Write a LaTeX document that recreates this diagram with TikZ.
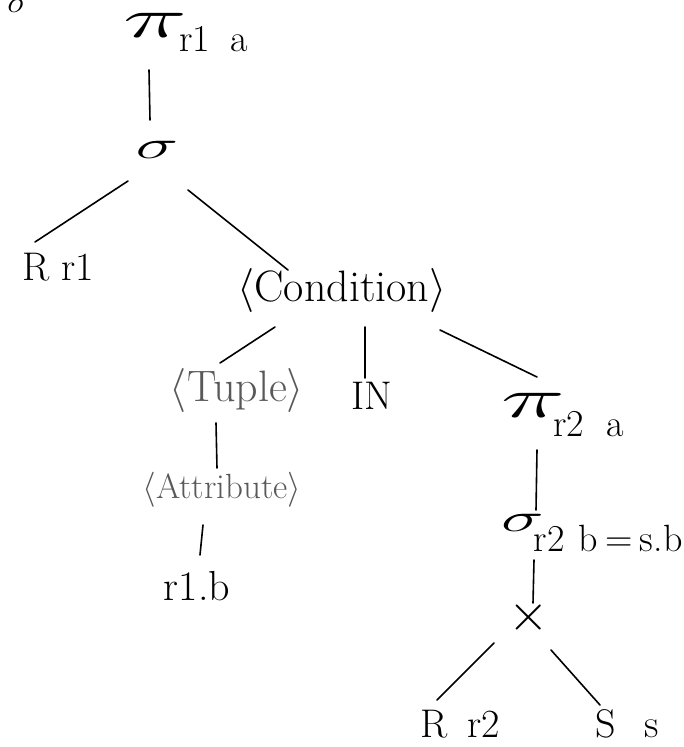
\RequirePackage{fix-cm}
\documentclass[tikz,border=0pt]{standalone}
\usepackage{fontspec}
\usepackage{graphicx}
\usetikzlibrary{calc}
% wide, hand-drawn looking operators
\newcommand\handpi{\scalebox{2.7}[1.4]{$\pi$}}
\newcommand\handsigma{\scalebox{1.8}[1.0]{$\sigma$}}
\newcommand\handtimes{\scalebox{1.3}{$\times$}}
% lowered subscript set at text size: {kern}{drop}{text}
\newcommand\opsub[3]{\hspace{#1}\raisebox{-#2}{\fontsize{38}{42}\selectfont #3}}
\begin{document}
\begin{tikzpicture}[x=1pt,y=-1pt,
  lbl/.style={inner sep=0pt, font=\fontsize{40}{46}\selectfont},
  faint/.style={inner sep=0pt, text=black!65, font=\fontsize{44}{50}\selectfont},
  edge/.style={line width=1.6pt, line cap=round}]
\useasboundingbox (0,0) rectangle (683,747);
\clip (0,0) rectangle (683,747);

% nodes of the query tree
\node[lbl] (corner) at (18,6) {\scalebox{0.5}[0.8]{\handsigma}};
\node[lbl, anchor=north west] (pi1) at (123,13) {\handpi\opsub{-8pt}{14pt}{r1\hspace{0.55em}a}};
\node[lbl] (sig1) at (157,150) {\handsigma};
\node[lbl] (Rr1) at (58,267) {R\hspace{0.3em}r1};
\node[lbl, font=\fontsize{44}{50}\selectfont] (cond) at (342,290) {$\langle$Condition$\rangle$};
\node[faint] (tuple) at (237,390) {$\langle$Tuple$\rangle$};
\node[lbl] (in) at (372,396) {IN};
\node[lbl, anchor=north west] (pi2) at (501,393) {\handpi\opsub{-12pt}{19pt}{r2\hspace{0.6em}a}};
\node[faint, font=\fontsize{35}{40}\selectfont] (attr) at (222,490) {$\langle$Attribute$\rangle$};
\node[lbl, font=\fontsize{42}{48}\selectfont] (r1b) at (197,586) {r1.b};
\node[lbl, anchor=north west] (sig2) at (501,514) {\handsigma\opsub{-10pt}{20pt}{r2\hspace{0.35em}b\hspace{0.2em}=\hspace{0.2em}s.b}};
\node[lbl] (times) at (529,617) {\handtimes};
\node[lbl] (Rr2) at (460,724) {R\hspace{0.5em}r2};
\node[lbl] (Ss) at (627,724) {S\hspace{0.7em}s};

% tree edges
\draw[edge] ($(pi1.north west)+(26,57)$) -- ($(sig1)+(-7,-30)$);
\draw[edge] ($(sig1)+(-29,31)$) -- ($(Rr1)+(-23,-25)$);
\draw[edge] ($(sig1)+(31,40)$) -- ($(cond)+(-54,-20)$);
\draw[edge] ($(cond)+(-67,37)$) -- ($(tuple)+(-17,-27)$);
\draw[edge] ($(cond)+(23,37)$) -- ($(in)+(-7,-18)$);
\draw[edge] ($(cond)+(98,40)$) -- ($(pi2.north west)+(36,-16)$);
\draw[edge] ($(tuple)+(-21,33)$) -- ($(attr)+(-5,-22)$);
\draw[edge] ($(attr)+(-19,35)$) -- ($(r1b)+(3,-31)$);
\draw[edge] ($(pi2.north west)+(36,57)$) -- ($(sig2.north west)+(35,-4)$);
\draw[edge] ($(sig2.north west)+(33,46)$) -- ($(times)+(4,-14)$);
\draw[edge] ($(times)+(-35,26)$) -- ($(Rr2)+(-23,-24)$);
\draw[edge] ($(times)+(22,33)$) -- ($(Ss)+(-27,-19)$);
\end{tikzpicture}
\end{document}
